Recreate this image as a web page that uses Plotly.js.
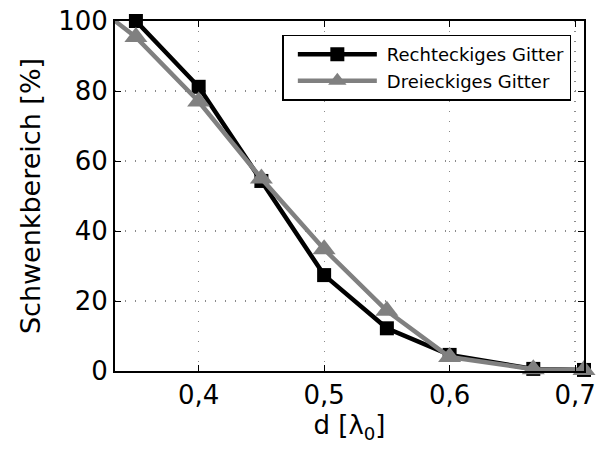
<!DOCTYPE html>
<html>
<head>
<meta charset="utf-8">
<script src="https://cdn.plot.ly/plotly-3.0.1.min.js"></script>
<style>
  html, body { margin: 0; padding: 0; background: #fff; }
  #chart { width: 597px; height: 456px; }
</style>
</head>
<body>
<div id="chart"></div>
<script>
// Element spacing d in units of the wavelength
const dRect = [0.35, 0.4, 0.45, 0.5, 0.55, 0.6, 0.6667, 0.7071];
const rangeRect = [100, 81.2, 54.3, 27.4, 12.2, 4.6, 0.6, 0.3];

const dTri = [0.3333, 0.35, 0.4, 0.45, 0.5, 0.55, 0.6, 0.6667, 0.7071];
const rangeTri = [100, 95.4, 77.0, 55.0, 34.8, 17.2, 4.0, 0.5, 0.3];

const xTickVals = [0.4, 0.5, 0.6, 0.7];
const xTickText = ['0,4', '0,5', '0,6', '0,7'];
const yTickVals = [0, 20, 40, 60, 80, 100];

const font = 'DejaVu Sans, Verdana, sans-serif';

const traces = [
  {
    x: dRect, y: rangeRect, name: 'Rechteckiges Gitter',
    mode: 'lines+markers', cliponaxis: false,
    line: { color: '#000000', width: 4.5 },
    marker: { symbol: 'square', size: 14, color: '#000000' }
  },
  {
    x: dTri, y: rangeTri, name: 'Dreieckiges Gitter',
    mode: 'lines+markers', cliponaxis: false,
    line: { color: '#808080', width: 4.5 },
    marker: { symbol: 'triangle-up', size: 20, color: '#808080' }
  }
];

const axisCommon = {
  showline: true, mirror: 'ticks', linecolor: '#000', linewidth: 2,
  ticks: 'inside', ticklen: 6, tickcolor: '#000', tickwidth: 1,
  showgrid: true, gridcolor: '#8a8a8a', griddash: '1px,9px', gridwidth: 1.2,
  zeroline: false,
  tickfont: { family: font, size: 26, color: '#000' }
};

const layout = {
  width: 597, height: 456,
  margin: { l: 115, r: 13, t: 21, b: 85 },
  paper_bgcolor: '#fff', plot_bgcolor: '#fff',
  font: { family: font, color: '#000' },
  xaxis: Object.assign({}, axisCommon, {
    range: [1 / 3, Math.SQRT1_2],
    tickvals: xTickVals, ticktext: xTickText,
    title: { text: 'd [λ<sub>0</sub>]', font: { family: font, size: 26 }, standoff: 2 }
  }),
  yaxis: Object.assign({}, axisCommon, {
    range: [0, 100],
    tickvals: yTickVals,
    title: { text: 'Schwenkbereich [%]', font: { family: font, size: 27 }, standoff: 10 }
  }),
  showlegend: true,
  legend: {
    x: 0.973, xanchor: 'right', y: 0.961, yanchor: 'top',
    bgcolor: '#fff', bordercolor: '#000', borderwidth: 1.5,
    font: { family: font, size: 18, color: '#000' },
    itemwidth: 93, tracegroupgap: 0
  }
};

Plotly.newPlot('chart', traces, layout, { displayModeBar: false, staticPlot: true })
  .then(function (gd) {
    // longer legend line samples with the markers centred on them
    gd.querySelectorAll('.legend .legendlines path').forEach(function (p) {
      p.setAttribute('d', 'M14,0h79');
    });
    gd.querySelectorAll('.legend .legendpoints path').forEach(function (p) {
      p.setAttribute('transform', 'translate(53.5,0)');
    });
  });
</script>
</body>
</html>
